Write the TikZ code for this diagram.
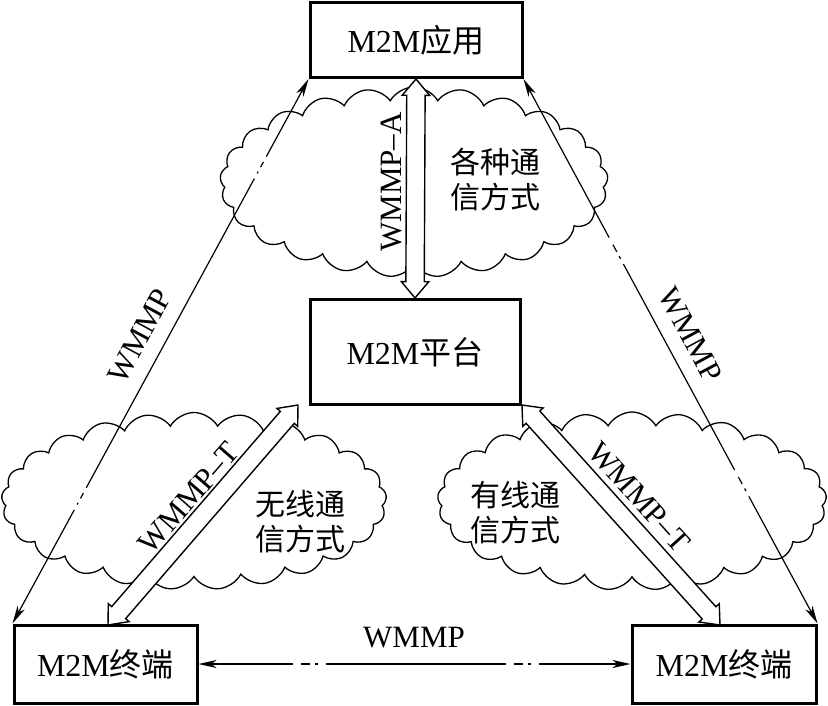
\documentclass[tikz,border=0pt]{standalone}
\usepackage{fontspec}
\setmainfont{Liberation Serif}
\newfontfamily\cjk{Noto Sans CJK SC}
\usetikzlibrary{arrows.meta,shapes.symbols,shapes.arrows,calc}
\begin{document}
\begin{tikzpicture}[x=1pt,y=-1pt,
  box/.style={draw, fill=white, line width=3pt, inner sep=0pt, font=\fontsize{32}{36}\selectfont},
  cloudy/.style={cloud, draw, line width=1.3pt, cloud puffs=25, cloud puff arc=120, cloud ignores aspect, inner sep=0pt},
  lbl/.style={font=\fontsize{31}{35}\selectfont, inner sep=0pt},
  cn/.style={font=\cjk\fontsize{30}{35}\selectfont, align=left, inner sep=0pt},
  wline/.style={line width=1.2pt, {Stealth[length=18pt,width=8pt,inset=5pt]}-{Stealth[length=18pt,width=8pt,inset=5pt]}},
  hollow/.style={double arrow, draw, fill=white, line width=1.4pt, inner xsep=0pt, inner ysep=8.5pt, double arrow head extend=4.5pt, double arrow tip angle=80, minimum width=26pt}
]
\useasboundingbox (0,0) rectangle (828,705);

% clouds
\node[cloudy, minimum width=388pt, minimum height=190pt] (c1) at (414,182) {};
\node[cloudy, minimum width=385pt, minimum height=177pt] (c2) at (194,501) {};
\node[cloudy, minimum width=389pt, minimum height=178pt] (c3) at (632,501) {};

% boxes
\node[box, minimum width=212pt, minimum height=75pt] (app) at (416,40) {M2M{\cjk 应用}};
\node[box, minimum width=210pt, minimum height=105pt] (plat) at (415,352) {M2M{\cjk 平台}};
\node[box, minimum width=183pt, minimum height=78pt] (lt) at (105.5,664) {M2M{\cjk 终端}};
\node[box, minimum width=184pt, minimum height=78pt] (rt) at (724,664) {M2M{\cjk 终端}};

% endpoints of hollow arrows
\coordinate (la) at (108,625);
\coordinate (lb) at (298,405);
\coordinate (ra) at (522,405);
\coordinate (rb) at (720,625);

% WMMP thin dash-dot connectors
\draw[wline, dash pattern=on 352pt off 6pt on 6pt off 5pt on 2pt off 6pt, dash phase=276pt] (app.south west) -- (lt.north west);
\draw[wline, dash pattern=on 234pt off 8pt on 8pt off 5pt on 3pt off 6pt, dash phase=66pt] (app.south east) -- (rt.north east);
\draw[wline, dash pattern=on 180pt off 8pt on 9pt off 5pt on 3pt off 8pt, dash phase=98pt] (lt.east) -- (rt.west);

% hollow double arrows
\path let \p1=($(plat.north)-(app.south)$), \n1={atan2(\y1,\x1)}, \n2={veclen(\x1,\y1)} in
  node[hollow, rotate=\n1, minimum height=\n2] (arrA) at ($(app.south)!0.5!(plat.north)$) {};
\path let \p1=($(lb)-(la)$), \n1={atan2(\y1,\x1)}, \n2={veclen(\x1,\y1)} in
  node[hollow, rotate=\n1, minimum height=\n2] (arrL) at ($(la)!0.5!(lb)$) {};
\path let \p1=($(rb)-(ra)$), \n1={atan2(\y1,\x1)}, \n2={veclen(\x1,\y1)} in
  node[hollow, rotate=\n1, minimum height=\n2] (arrR) at ($(ra)!0.5!(rb)$) {};

% labels
\node[lbl, rotate=90] (tA) at (391,182) {WMMP--A};
\node[lbl, rotate=49] (tL) at (189,498) {WMMP--T};
\node[lbl, rotate=-48] (tR) at (639,497) {WMMP--T};
\node[lbl, rotate=61.6] (wL) at (140,336) {WMMP};
\node[lbl, rotate=-61.8] (wR) at (690,335) {WMMP};
\node[lbl] (wH) at (414,638) {WMMP};

\node[cn] (k1) at (495,180) {各种通\\信方式};
\node[cn] (k2) at (300,522) {无线通\\信方式};
\node[cn] (k3) at (515,513) {有线通\\信方式};
\end{tikzpicture}
\end{document}
